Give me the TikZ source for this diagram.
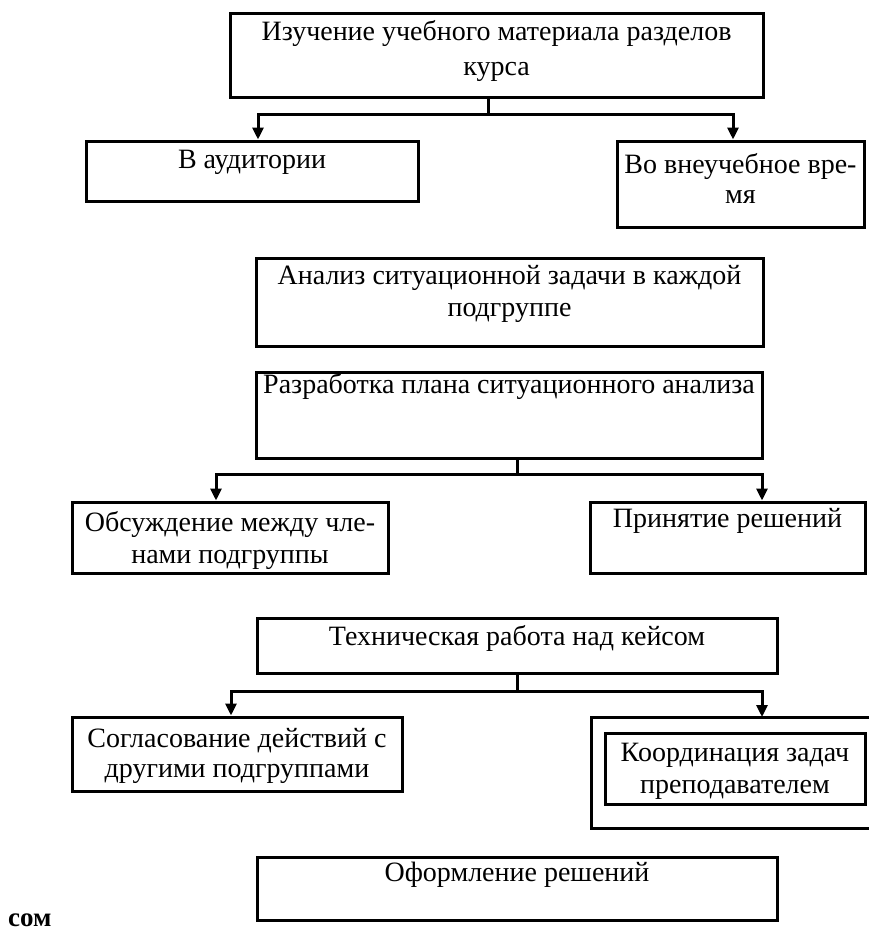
\documentclass[tikz,border=0pt]{standalone}
\usepackage{fontspec}
\setmainfont{Liberation Serif}
\usetikzlibrary{arrows.meta}

\begin{document}
\begin{tikzpicture}[
  x=1pt, y=-1pt,
  box/.style={draw, line width=3pt, inner sep=0pt},
  txt/.style={anchor=north, inner sep=0pt, align=center,
              font=\fontsize{28}{32}\selectfont},
  conn/.style={line width=3pt},
  arrow/.style={conn, -{Triangle[length=12pt, width=11pt]}}
]
  \useasboundingbox (0,0) rectangle (869,945);

  % first level
  \node[box, minimum width=533pt, minimum height=84pt,
        label={[txt, yshift=-9pt, font=\fontsize{28}{35}\selectfont]north:Изучение учебного материала разделов\\курса}] (study) at (496.5,55) {};
  \node[box, minimum width=332pt, minimum height=60pt,
        label={[txt, yshift=-10pt]north:В аудитории}] (aud) at (252,171) {};
  \node[box, minimum width=247pt, minimum height=86pt,
        label={[txt, yshift=-14pt, font=\fontsize{28}{30}\selectfont]north:Во внеучебное вре-\\мя}] (free) at (740.5,184) {};

  % analysis
  \node[box, minimum width=507pt, minimum height=88pt,
        label={[txt, yshift=-9pt]north:Анализ ситуационной задачи в каждой\\подгруппе}] (analysis) at (509.5,302) {};
  \node[box, minimum width=506pt, minimum height=86pt,
        label={[txt, yshift=-3pt]north:Разработка плана ситуационного анализа}] (plan) at (509,415) {};
  \node[box, minimum width=316pt, minimum height=71pt,
        label={[txt, yshift=-11pt]north:Обсуждение между чле-\\нами подгруппы}] (discuss) at (230,537.5) {};
  \node[box, minimum width=275pt, minimum height=71pt,
        label={[txt, yshift=-8pt]north:Принятие решений}] (decide) at (727.5,537.5) {};

  % technical work
  \node[box, minimum width=520pt, minimum height=55pt,
        label={[txt, yshift=-9pt]north:Техническая работа над кейсом}] (tech) at (517,645.5) {};
  \node[box, minimum width=330pt, minimum height=74pt,
        label={[txt, yshift=-13pt, font=\fontsize{28}{30}\selectfont]north:Согласование действий с\\другими подгруппами}] (agree) at (237,754) {};
  \draw[conn] (869,717) -- (591,717) -- (591,828) -- (869,828);
  \coordinate (frametop) at (762,717);
  \node[box, minimum width=260pt, minimum height=71pt,
        label={[txt, yshift=-11pt]north:Координация задач\\преподавателем}] (coord) at (735,768.5) {};

  \node[box, minimum width=520pt, minimum height=63pt,
        label={[txt, yshift=-6pt]north:Оформление решений}] (result) at (517,888.5) {};
  \node[anchor=base west, inner sep=0pt, font=\fontsize{27}{30}\selectfont\bfseries] (tail) at (8,926) {сом};

  % connectors
  \coordinate (j1) at (488,114);
  \draw[conn] (study.south -| j1) -- (j1);
  \draw[arrow] (j1) -| ([xshift=6pt]aud.north);
  \draw[arrow] (j1) -| ([xshift=-7.5pt]free.north);

  \coordinate (j2) at (517,474);
  \draw[conn] (plan.south -| j2) -- (j2);
  \draw[arrow] (j2) -| ([xshift=-14pt]discuss.north);
  \draw[arrow] (j2) -| ([xshift=34.5pt]decide.north);

  \coordinate (j3) at (517,691);
  \draw[conn] (tech.south) -- (j3);
  \draw[arrow] (j3) -| ([xshift=-6pt]agree.north);
  \draw[arrow] (j3) -| (frametop);
\end{tikzpicture}
\end{document}
